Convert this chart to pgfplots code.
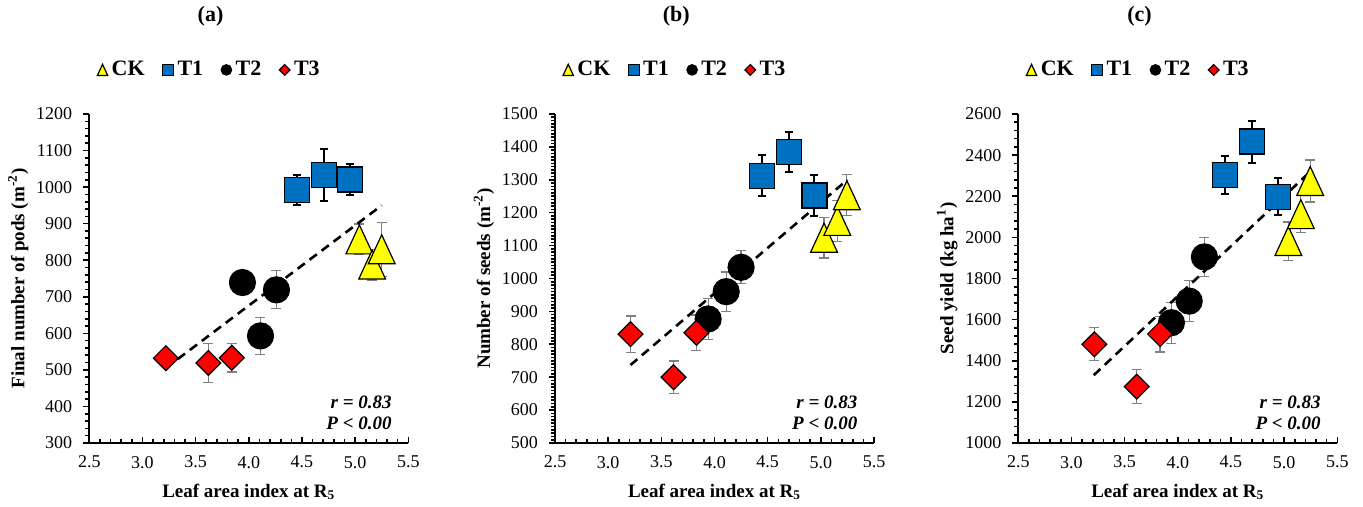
\documentclass[border=0pt]{standalone}
\usepackage{fontspec}
\setmainfont{Liberation Serif}
\usepackage{pgfplots}
\pgfplotsset{compat=1.18}

\definecolor{ckyellow}{HTML}{FFFF00}
\definecolor{tblue}{HTML}{0070C0}
\definecolor{tred}{HTML}{FF0000}
\definecolor{errgray}{HTML}{808080}

% Excel-like triangle, centred on its bounding box
\pgfdeclareplotmark{tri}{%
  \pgfpathmoveto{\pgfqpoint{0pt}{1.08\pgfplotmarksize}}%
  \pgfpathlineto{\pgfqpoint{-\pgfplotmarksize}{-1.08\pgfplotmarksize}}%
  \pgfpathlineto{\pgfqpoint{\pgfplotmarksize}{-1.08\pgfplotmarksize}}%
  \pgfpathclose
  \pgfusepathqfillstroke}

\pgfplotsset{
  panel/.style={
    scale only axis, width=159.5pt, height=164.5pt,
    axis lines=left, axis line style={-, line width=1pt},
    xmin=2.5, xmax=5.5, xtick={2.5,3,...,5.5}, minor x tick num=4,
    enlargelimits=false, clip=false,
    xtick align=inside, ytick align=outside,
    major tick length=3pt, minor tick length=2pt,
    every tick/.style={black, line width=0.8pt},
    /pgf/number format/assume math mode=true,
    tick label style={font=\fontsize{9}{10}\selectfont},
    xticklabel style={yshift=-3pt, /pgf/number format/.cd, fixed, fixed zerofill, precision=1},
    yticklabel style={xshift=-2pt, /pgf/number format/.cd, fixed, 1000 sep={}},
    xlabel={\textbf{Leaf area index at R\textsubscript{5}}},
    label style={font=\bfseries\fontsize{9.5}{11}\selectfont},
    xlabel style={yshift=-1pt},
    ylabel style={yshift=-3pt},
    title style={at={(axis description cs:0.38,1.26)}, anchor=center,
      font=\bfseries\fontsize{11}{13}\selectfont},
    legend columns=4,
    legend style={at={(axis description cs:0.38,1.134)}, anchor=center,
      draw=none, fill=none, inner sep=0pt,
      font=\bfseries\fontsize{11}{13}\selectfont,
      nodes={inner sep=2pt},
      /tikz/every even column/.append style={column sep=7pt}},
    legend image code/.code={\draw[##1] plot coordinates {(3pt,0pt)};},
  },
  % error bars drawn on their own, before the markers
  grayerr/.style={only marks, mark=none, forget plot,
    error bars/y dir=both, error bars/y explicit, error bars/error mark=|,
    error bars/error bar style={draw=errgray, line width=0.6pt},
    error bars/error mark options={draw=errgray, mark size=2.5pt, line width=0.6pt}},
  blackerr/.style={only marks, mark=none, forget plot,
    error bars/y dir=both, error bars/y explicit, error bars/error mark=|,
    error bars/error bar style={draw=black, line width=1pt},
    error bars/error mark options={draw=black, mark size=2pt, line width=1pt}},
  ck/.style={only marks, mark=tri, mark size=6.7pt,
    mark options={fill=ckyellow, draw=black, line width=0.6pt},
    legend image post style={mark size=2.6pt}},
  tone/.style={only marks, mark=square*, mark size=6.25pt,
    mark options={fill=tblue, draw=black, line width=0.6pt},
    legend image post style={mark size=2.7pt}},
  ttwo/.style={only marks, mark=*, mark size=6.5pt,
    mark options={fill=black, draw=black, line width=0.6pt},
    legend image post style={mark size=2.6pt}},
  tthree/.style={only marks, mark=square*, mark size=4.4pt,
    mark options={rotate=45, fill=tred, draw=black, line width=0.6pt},
    legend image post style={mark size=1.9pt}},
  trend/.style={black, line width=1.3pt, dash pattern=on 4.5pt off 3pt, forget plot},
}

\newcommand{\stats}{\node[anchor=east, align=right,
  font=\bfseries\itshape\fontsize{9.5}{10.5}\selectfont]
  at (axis description cs:0.97,0.093) {r = 0.83\\P < 0.00};}

\begin{document}
\begin{tikzpicture}
\useasboundingbox (-44.65pt,-32pt) rectangle (636.85pt,221.5pt);

% (a) pods
\begin{axis}[panel, at={(0pt,0pt)}, anchor=south west,
  title={(a)}, ymin=300, ymax=1200, ytick={300,400,...,1200}, minor y tick num=4,
  ylabel={Final number of pods (m\textsuperscript{-2})}]
\addplot[grayerr] coordinates {(5.04,857) +- (0,42) (5.16,788) +- (0,42) (5.25,830) +- (0,74)};
\addplot[ck] coordinates {(5.04,857) (5.16,788) (5.25,830)};
\addplot[blackerr] coordinates {(4.45,992) +- (0,41) (4.71,1033) +- (0,71) (4.95,1021) +- (0,43)};
\addplot[tone] coordinates {(4.45,992) (4.71,1033) (4.95,1021)};
\addplot[grayerr] coordinates {(3.94,739) +- (0,20) (4.11,593) +- (0,51) (4.26,719) +- (0,52)};
\addplot[ttwo] coordinates {(3.94,739) (4.11,593) (4.26,719)};
\addplot[grayerr] coordinates {(3.22,532) +- (0,15) (3.62,519) +- (0,54) (3.84,533) +- (0,39)};
\addplot[tthree] coordinates {(3.22,532) (3.62,519) (3.84,533)};
\addplot[trend] coordinates {(3.22,505) (5.25,950)};
\legend{CK,T1,T2,T3}
\stats
\end{axis}

% (b) seeds
\begin{axis}[panel, at={(232.85pt,0pt)}, anchor=south west,
  title={(b)}, ymin=500, ymax=1500, ytick={500,600,...,1500}, minor y tick num=9,
  ylabel={Number of seeds (m\textsuperscript{-2})}]
\addplot[grayerr] coordinates {(5.03,1124) +- (0,62) (5.155,1175) +- (0,63) (5.245,1253) +- (0,62)};
\addplot[ck] coordinates {(5.03,1124) (5.155,1175) (5.245,1253)};
\addplot[blackerr] coordinates {(4.45,1312) +- (0,62) (4.70,1384) +- (0,60) (4.94,1252) +- (0,62)};
\addplot[tone] coordinates {(4.45,1312) (4.70,1384) (4.94,1252)};
\addplot[grayerr] coordinates {(3.94,877) +- (0,62) (4.11,960) +- (0,60) (4.25,1034) +- (0,50)};
\addplot[ttwo] coordinates {(3.94,877) (4.11,960) (4.25,1034)};
\addplot[grayerr] coordinates {(3.21,831) +- (0,55) (3.615,700) +- (0,49) (3.83,835) +- (0,54)};
\addplot[tthree] coordinates {(3.21,831) (3.615,700) (3.83,835)};
\addplot[trend] coordinates {(3.21,737) (5.25,1300)};
\legend{CK,T1,T2,T3}
\stats
\end{axis}

% (c) seed yield
\begin{axis}[panel, at={(464.5pt,0pt)}, anchor=south west,
  title={(c)}, ymin=1000, ymax=2600, ytick={1000,1200,...,2600}, minor y tick num=4,
  ylabel={Seed yield (kg ha\textsuperscript{1})}]
\addplot[grayerr] coordinates {(5.04,1982) +- (0,93) (5.157,2113) +- (0,91) (5.245,2274) +- (0,102)};
\addplot[ck] coordinates {(5.04,1982) (5.157,2113) (5.245,2274)};
\addplot[blackerr] coordinates {(4.44,2304) +- (0,93) (4.70,2466) +- (0,102) (4.94,2198) +- (0,91)};
\addplot[tone] coordinates {(4.44,2304) (4.70,2466) (4.94,2198)};
\addplot[grayerr] coordinates {(3.94,1585) +- (0,100) (4.107,1690) +- (0,100) (4.25,1905) +- (0,95)};
\addplot[ttwo] coordinates {(3.94,1585) (4.107,1690) (4.25,1905)};
\addplot[grayerr] coordinates {(3.215,1480) +- (0,80) (3.614,1274) +- (0,82) (3.833,1530) +- (0,87)};
\addplot[tthree] coordinates {(3.215,1480) (3.614,1274) (3.833,1530)};
\addplot[trend] coordinates {(3.21,1330) (5.25,2322)};
\legend{CK,T1,T2,T3}
\stats
\end{axis}
\end{tikzpicture}
\end{document}
